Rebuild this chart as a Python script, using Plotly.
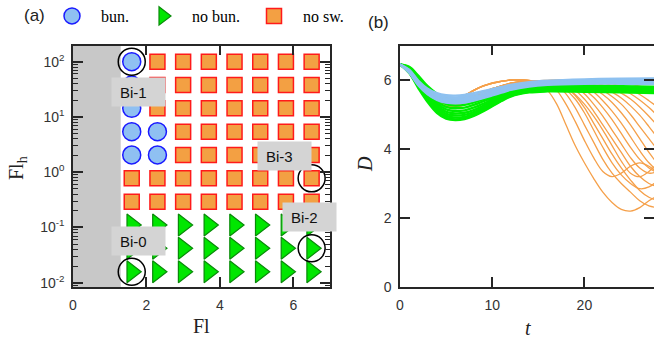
import math
import plotly.graph_objects as go

# ---------------- panel (a) data ----------------
fl_values = [1.6, 2.3, 3.0, 3.7, 4.4, 5.1, 5.8, 6.5]
flh_values = [100, 37.8, 14.3, 5.41, 2.05, 0.774, 0.292, 0.111, 0.042, 0.0158]
# rows follow flh_values, columns follow fl_values
# b = bundling, n = no bundling, s = no swimming
regime_rows = [
    "bsssssss",
    "bsssssss",
    "bsssssss",
    "bbssssss",
    "bbssssss",
    "ssssssss",
    "ssssssss",
    "nnnnnnnn",
    "nnnnnnnn",
    "nnnnnnnn",
]
gray_fl_max = 1.3
bi_labels = ["Bi-0", "Bi-1", "Bi-2", "Bi-3"]
bi_fl = [1.6, 1.6, 6.5, 6.5]
bi_flh = [0.0158, 100, 0.042, 0.774]

# ---------------- panel (b) data ----------------
t_orange = [0, 1, 2, 3, 4, 5, 6, 7, 8, 9, 10, 11, 12, 13, 14, 15, 16, 17, 18, 19,
            20, 21, 22, 23, 24, 25, 26, 27, 28]
D_orange = [
    [6.45, 6.28, 5.95, 5.65, 5.45, 5.32, 5.28, 5.32, 5.42, 5.55, 5.68, 5.78, 5.86, 5.92, 5.95, 5.9, 5.7, 5.3, 4.7, 4.1, 3.6, 3.15, 2.75, 2.45, 2.25, 2.2, 2.3, 2.5, 2.65],
    [6.45, 6.3, 6.02, 5.78, 5.6, 5.48, 5.45, 5.48, 5.55, 5.65, 5.75, 5.83, 5.9, 5.93, 5.95, 5.95, 5.9, 5.7, 5.3, 4.8, 4.25, 3.75, 3.35, 3.2, 3.3, 3.5, 3.6, 3.5, 3.3],
    [6.45, 6.3, 6.0, 5.72, 5.55, 5.45, 5.45, 5.55, 5.7, 5.82, 5.9, 5.96, 6.0, 6.0, 5.98, 5.95, 5.92, 5.85, 5.6, 5.2, 4.7, 4.2, 3.7, 3.3, 3.0, 2.75, 2.5, 2.35, 2.3],
    [6.45, 6.25, 5.9, 5.6, 5.38, 5.25, 5.22, 5.28, 5.4, 5.55, 5.7, 5.82, 5.9, 5.95, 5.97, 5.95, 5.93, 5.9, 5.8, 5.55, 5.2, 4.75, 4.3, 3.85, 3.45, 3.1, 2.8, 2.6, 2.5],
    [6.45, 6.29, 5.99, 5.74, 5.56, 5.44, 5.41, 5.44, 5.52, 5.63, 5.74, 5.83, 5.9, 5.94, 5.96, 5.95, 5.95, 5.92, 5.85, 5.7, 5.45, 5.1, 4.7, 4.3, 3.9, 3.5, 3.2, 3.0, 2.9],
    [6.45, 6.31, 6.02, 5.75, 5.57, 5.47, 5.47, 5.56, 5.7, 5.83, 5.92, 5.97, 6.0, 6.01, 5.99, 5.95, 5.95, 5.93, 5.9, 5.8, 5.6, 5.3, 4.95, 4.55, 4.15, 3.75, 3.45, 3.3, 3.35],
    [6.45, 6.27, 5.93, 5.62, 5.42, 5.3, 5.27, 5.31, 5.41, 5.54, 5.67, 5.78, 5.86, 5.92, 5.95, 5.95, 5.95, 5.95, 5.92, 5.85, 5.72, 5.5, 5.2, 4.85, 4.45, 4.05, 3.7, 3.45, 3.3],
    [6.45, 6.3, 6.02, 5.78, 5.6, 5.48, 5.45, 5.48, 5.55, 5.65, 5.75, 5.83, 5.9, 5.93, 5.95, 5.95, 5.95, 5.95, 5.93, 5.88, 5.8, 5.65, 5.4, 5.1, 4.75, 4.35, 3.95, 3.6, 3.35],
    [6.45, 6.26, 5.91, 5.61, 5.4, 5.27, 5.24, 5.3, 5.42, 5.57, 5.71, 5.83, 5.91, 5.95, 5.97, 5.95, 5.96, 5.96, 5.95, 5.92, 5.85, 5.75, 5.58, 5.35, 5.05, 4.7, 4.3, 3.9, 3.55],
    [6.45, 6.3, 6.0, 5.72, 5.55, 5.45, 5.45, 5.55, 5.7, 5.82, 5.9, 5.96, 6.0, 6.0, 5.98, 5.95, 5.96, 5.96, 5.96, 5.94, 5.9, 5.82, 5.7, 5.52, 5.3, 5.0, 4.65, 4.3, 3.95],
    [6.45, 6.3, 6.02, 5.78, 5.6, 5.48, 5.45, 5.48, 5.55, 5.65, 5.75, 5.83, 5.9, 5.93, 5.95, 5.96, 5.97, 5.97, 5.96, 5.95, 5.92, 5.87, 5.78, 5.65, 5.48, 5.25, 4.98, 4.65, 4.3],
    [6.45, 6.28, 5.95, 5.65, 5.45, 5.32, 5.28, 5.32, 5.42, 5.55, 5.68, 5.78, 5.86, 5.92, 5.95, 5.96, 5.97, 5.97, 5.97, 5.96, 5.95, 5.92, 5.86, 5.76, 5.62, 5.45, 5.22, 4.95, 4.65],
    [6.45, 6.31, 6.02, 5.75, 5.57, 5.47, 5.47, 5.56, 5.7, 5.83, 5.92, 5.97, 6.0, 6.01, 5.99, 5.96, 5.97, 5.98, 5.98, 5.97, 5.96, 5.94, 5.9, 5.84, 5.74, 5.6, 5.42, 5.2, 4.95],
    [6.45, 6.29, 5.99, 5.74, 5.56, 5.44, 5.41, 5.44, 5.52, 5.63, 5.74, 5.83, 5.9, 5.94, 5.96, 5.96, 5.97, 5.98, 5.98, 5.98, 5.97, 5.96, 5.93, 5.89, 5.82, 5.72, 5.58, 5.4, 5.2],
    [6.45, 6.25, 5.9, 5.6, 5.38, 5.25, 5.22, 5.28, 5.4, 5.55, 5.7, 5.82, 5.9, 5.95, 5.97, 5.97, 5.98, 5.98, 5.99, 5.99, 5.99, 5.98, 5.97, 5.95, 5.92, 5.88, 5.82, 5.74, 5.64],
    [6.45, 6.3, 6.0, 5.72, 5.55, 5.45, 5.45, 5.55, 5.7, 5.82, 5.9, 5.96, 6.0, 6.0, 5.98, 5.98, 5.99, 6.0, 6.0, 6.0, 6.0, 6.0, 6.0, 5.99, 5.98, 5.97, 5.95, 5.92, 5.88],
    [6.45, 6.27, 5.93, 5.62, 5.42, 5.3, 5.27, 5.31, 5.41, 5.54, 5.67, 5.78, 5.86, 5.92, 5.95, 5.95, 5.94, 5.88, 5.72, 5.45, 5.05, 4.55, 4.05, 3.6, 3.25, 3.0, 2.85, 2.9, 3.1],
    [6.45, 6.3, 6.02, 5.78, 5.6, 5.48, 5.45, 5.48, 5.55, 5.65, 5.75, 5.83, 5.9, 5.93, 5.95, 5.95, 5.95, 5.9, 5.78, 5.58, 5.3, 4.95, 4.55, 4.1, 3.65, 3.3, 3.2, 3.35, 3.6],
]
t_band = [0, 1, 2, 3, 4, 5, 6, 7, 8, 9, 10, 11, 12, 14, 16, 20, 24, 28]
D_green = [
    [6.45, 6.38, 6.12, 5.82, 5.6, 5.45, 5.42, 5.43, 5.48, 5.55, 5.62, 5.7, 5.76, 5.83, 5.85, 5.84, 5.82, 5.8],
    [6.45, 6.36, 6.08, 5.76, 5.52, 5.38, 5.34, 5.36, 5.42, 5.5, 5.58, 5.66, 5.73, 5.8, 5.83, 5.82, 5.8, 5.78],
    [6.45, 6.34, 6.04, 5.7, 5.45, 5.3, 5.26, 5.28, 5.35, 5.44, 5.53, 5.62, 5.7, 5.78, 5.81, 5.8, 5.78, 5.76],
    [6.45, 6.32, 6.0, 5.65, 5.38, 5.22, 5.18, 5.2, 5.28, 5.38, 5.48, 5.58, 5.67, 5.76, 5.79, 5.78, 5.76, 5.74],
    [6.45, 6.3, 5.96, 5.6, 5.32, 5.15, 5.1, 5.12, 5.2, 5.31, 5.43, 5.54, 5.64, 5.74, 5.77, 5.76, 5.74, 5.72],
    [6.45, 6.28, 5.92, 5.55, 5.26, 5.08, 5.03, 5.05, 5.13, 5.25, 5.38, 5.5, 5.61, 5.72, 5.75, 5.74, 5.72, 5.7],
    [6.45, 6.26, 5.88, 5.5, 5.2, 5.02, 4.97, 4.99, 5.07, 5.2, 5.34, 5.47, 5.58, 5.7, 5.73, 5.72, 5.7, 5.68],
    [6.45, 6.24, 5.84, 5.45, 5.14, 4.96, 4.91, 4.93, 5.02, 5.15, 5.3, 5.44, 5.56, 5.68, 5.71, 5.7, 5.68, 5.66],
    [6.45, 6.22, 5.8, 5.4, 5.09, 4.91, 4.86, 4.89, 4.98, 5.11, 5.26, 5.41, 5.54, 5.66, 5.69, 5.68, 5.66, 5.64],
    [6.45, 6.2, 5.76, 5.36, 5.05, 4.88, 4.84, 4.87, 4.96, 5.09, 5.24, 5.39, 5.52, 5.64, 5.67, 5.66, 5.64, 5.62],
]
D_blue = [
    [6.45, 6.3, 5.98, 5.75, 5.62, 5.56, 5.55, 5.57, 5.62, 5.68, 5.74, 5.8, 5.86, 5.94, 5.98, 6.02, 6.04, 6.05],
    [6.45, 6.28, 5.95, 5.72, 5.58, 5.52, 5.5, 5.52, 5.57, 5.63, 5.7, 5.77, 5.83, 5.91, 5.96, 6.0, 6.02, 6.03],
    [6.45, 6.27, 5.93, 5.69, 5.54, 5.47, 5.45, 5.47, 5.52, 5.58, 5.66, 5.74, 5.8, 5.89, 5.94, 5.98, 6.0, 6.0],
    [6.45, 6.25, 5.9, 5.66, 5.5, 5.43, 5.41, 5.43, 5.48, 5.55, 5.63, 5.71, 5.78, 5.87, 5.92, 5.96, 5.97, 5.97],
    [6.45, 6.24, 5.88, 5.63, 5.47, 5.39, 5.37, 5.39, 5.45, 5.52, 5.6, 5.68, 5.75, 5.85, 5.9, 5.93, 5.94, 5.94],
    [6.45, 6.22, 5.86, 5.6, 5.44, 5.36, 5.34, 5.36, 5.42, 5.49, 5.57, 5.65, 5.73, 5.83, 5.88, 5.91, 5.91, 5.91],
    [6.45, 6.21, 5.84, 5.58, 5.42, 5.34, 5.32, 5.34, 5.4, 5.47, 5.55, 5.63, 5.71, 5.81, 5.86, 5.89, 5.89, 5.88],
]

# ---------------- styling ----------------
W, H = 654, 338
AX = "#262626"
SANS = "Liberation Sans"
SERIF = "Liberation Serif"
C_ORANGE = "#f5a04a"
C_GREEN = "#00ee00"
C_BLUE = "#8ec1f0"
ytop_px, ybot_px = 45.5, 287.0
ydom = [1 - ybot_px / H, 1 - ytop_px / H]
# label box offsets (px, screen right / screen down) relative to the highlighted point
bi_shift = {"Bi-0": (-20.6, -30.8), "Bi-1": (-20.6, 30.8),
            "Bi-2": (-30.0, -31.2), "Bi-3": (-55.0, -22.4)}

fig = go.Figure()

styles = {
    "b": dict(name="bun.", symbol="circle", size=18, color="#8fc0f2",
              line=dict(color="#1a1aff", width=1.5)),
    "n": dict(name="no bun.", symbol="triangle-right", size=19, color="#00e600",
              line=dict(color="#0a8a0a", width=1.2)),
    "s": dict(name="no sw.", symbol="square", size=15, color="#f3a043",
              line=dict(color="#ff1a1a", width=1.5)),
}
for key in ["b", "n", "s"]:
    xs, ys = [], []
    for r, row in enumerate(regime_rows):
        for c, ch in enumerate(row):
            if ch == key:
                xs.append(fl_values[c])
                ys.append(flh_values[r])
    st = styles[key]
    fig.add_trace(go.Scatter(
        x=xs, y=ys, mode="markers", name=st["name"], xaxis="x", yaxis="y",
        marker=dict(symbol=st["symbol"], size=st["size"], color=st["color"],
                    line=st["line"]),
    ))

fig.add_trace(go.Scatter(
    x=bi_fl, y=bi_flh, mode="markers", showlegend=False, xaxis="x", yaxis="y",
    marker=dict(symbol="circle", size=27, color="rgba(0,0,0,0)",
                line=dict(color="black", width=1.5)),
))

for d in D_orange:
    fig.add_trace(go.Scatter(x=t_orange, y=d, mode="lines", showlegend=False,
                             xaxis="x2", yaxis="y2",
                             line=dict(color=C_ORANGE, width=1.3, shape="spline")))
for d in D_green:
    fig.add_trace(go.Scatter(x=t_band, y=d, mode="lines", showlegend=False,
                             xaxis="x2", yaxis="y2",
                             line=dict(color=C_GREEN, width=2.4, shape="spline")))
for d in D_blue:
    fig.add_trace(go.Scatter(x=t_band, y=d, mode="lines", showlegend=False,
                             xaxis="x2", yaxis="y2",
                             line=dict(color=C_BLUE, width=2.2, shape="spline")))

tickfont = dict(family=SANS, size=14, color="#333333")
common = dict(ticks="inside", ticklen=10, tickwidth=1.5, tickcolor=AX,
              showline=True, linecolor=AX, linewidth=1.5, mirror="ticks",
              showgrid=False, zeroline=False, tickfont=tickfont, automargin=False)

fig.update_layout(
    width=W, height=H, margin=dict(l=0, r=0, t=0, b=0, autoexpand=False),
    paper_bgcolor="white", plot_bgcolor="white",
    xaxis=dict(domain=[73 / W, 330 / W], range=[0, 7], tickvals=[0, 2, 4, 6],
               anchor="y", ticklabelstandoff=4, **common),
    yaxis=dict(domain=ydom, type="log", range=[-2.078, 2.293],
               tickvals=[0.01, 0.1, 1, 10, 100],
               ticktext=["10<sup>-2</sup>", "10<sup>-1</sup>", "10<sup>0</sup>",
                         "10<sup>1</sup>", "10<sup>2</sup>"],
               minor=dict(ticks="inside", ticklen=5, tickwidth=1, tickcolor=AX,
                          dtick="D1", showgrid=False),
               anchor="x", ticklabelstandoff=4, **common),
    xaxis2=dict(domain=[400 / W, 1.0], range=[0, 27.55], tickvals=[0, 10, 20],
                anchor="y2", ticklabelstandoff=4, **common),
    yaxis2=dict(domain=ydom, range=[0, 7], tickvals=[0, 2, 4, 6],
                anchor="x2", ticklabelstandoff=4, **common),
    legend=dict(orientation="h", x=43 / W, xanchor="left", y=1 - 16 / H,
                yanchor="middle", font=dict(family=SERIF, size=16, color="black"),
                bgcolor="rgba(0,0,0,0)", itemwidth=48),
    shapes=[dict(type="rect", xref="x", yref="y domain", x0=0, x1=gray_fl_max,
                 y0=0, y1=1, fillcolor="#c8c8c8", line=dict(width=0),
                 layer="below")],
)

ann = []
for lab, fx, fy in zip(bi_labels, bi_fl, bi_flh):
    dx, dy = bi_shift[lab]
    ann.append(dict(text=lab, x=fx, y=math.log10(fy), xref="x", yref="y",
                    xanchor="left", yanchor="middle", xshift=dx, yshift=-dy,
                    showarrow=False, bgcolor="#d4d4d4", borderpad=8,
                    width=37, height=12, align="left",
                    font=dict(family=SANS, size=15, color="#111111")))
ann += [
    dict(text="(a)", x=22 / W, y=1 - 15 / H, xref="paper", yref="paper",
         xanchor="left", yanchor="middle", showarrow=False,
         font=dict(family=SANS, size=17, color="#222222")),
    dict(text="(b)", x=366 / W, y=1 - 22 / H, xref="paper", yref="paper",
         xanchor="left", yanchor="middle", showarrow=False,
         font=dict(family=SANS, size=17, color="#222222")),
    dict(text="Fl", x=(73 + 330) / 2 / W, y=1 - 326 / H, xref="paper", yref="paper",
         xanchor="center", yanchor="middle", showarrow=False,
         font=dict(family=SERIF, size=20, color="#222222")),
    dict(text="Fl<sub>h</sub>", x=17 / W, y=1 - 168 / H, xref="paper", yref="paper",
         xanchor="center", yanchor="middle", showarrow=False, textangle=-90,
         font=dict(family=SERIF, size=20, color="#222222")),
    dict(text="<i>t</i>", x=528 / W, y=1 - 328 / H, xref="paper", yref="paper",
         xanchor="center", yanchor="middle", showarrow=False,
         font=dict(family=SERIF, size=20, color="#222222")),
    dict(text="<i>D</i>", x=365 / W, y=1 - 164 / H, xref="paper", yref="paper",
         xanchor="center", yanchor="middle", showarrow=False, textangle=-90,
         font=dict(family=SERIF, size=20, color="#222222")),
]
fig.update_layout(annotations=ann)

fig.write_html("out.html")
